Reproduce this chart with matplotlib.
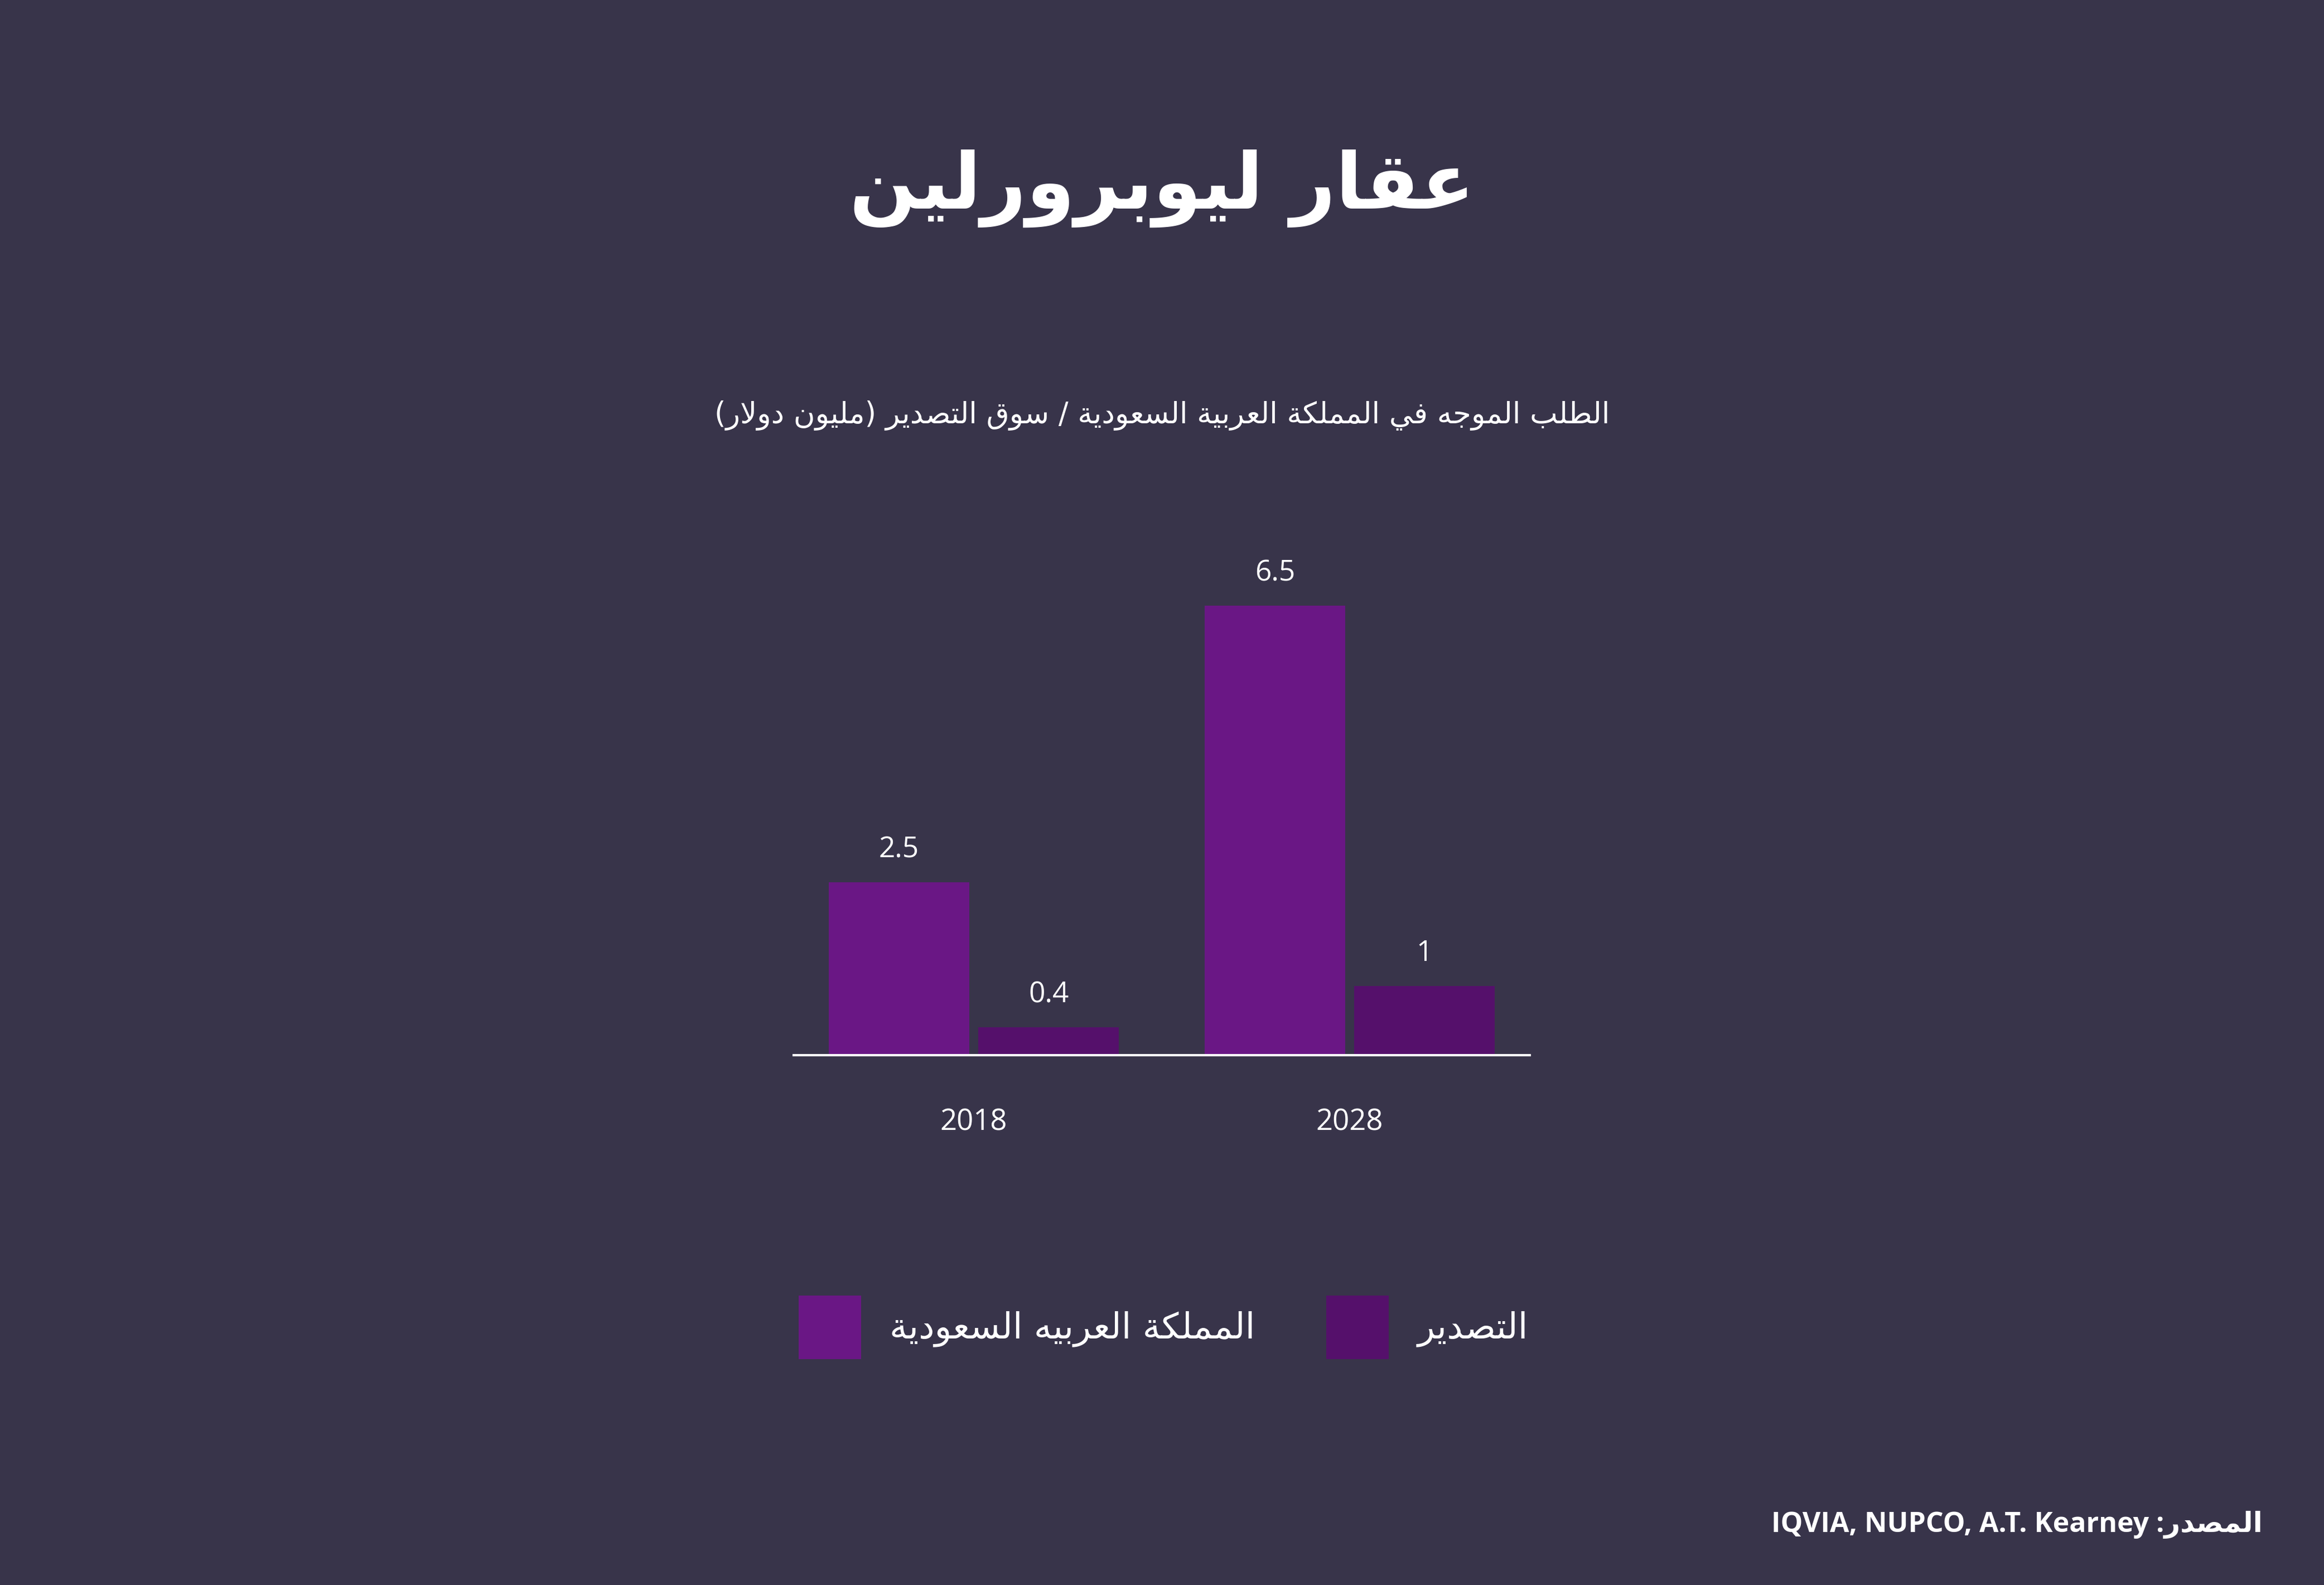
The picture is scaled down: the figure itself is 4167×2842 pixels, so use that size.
import matplotlib
matplotlib.use("Agg")
import matplotlib.pyplot as plt
import numpy as np

# ---- data ----
years = ["2018", "2028"]
saudi = [2.5, 6.5]
export = [0.4, 1.0]
value_labels_saudi = ["2.5", "6.5"]
value_labels_export = ["0.4", "1"]

title_txt = "عقار ليوبرورلين"
subtitle_txt = "الطلب الموجه في المملكة العربية السعودية / سوق التصدير (مليون دولار)"
legend_saudi = "المملكة العربيه السعودية"
legend_export = "التصدير"
source_label = "المصدر"
source_names = "IQVIA, NUPCO, A.T. Kearney"

BG = "#38344a"
C_SAUDI = "#6a1785"
C_EXPORT = "#55106b"

# ---- minimal arabic shaping (matplotlib has no shaper) ----
# base presentation-form code point, number of forms (2 = right-joining only)
FORMS = {
    "ا": (0xFE8D, 2), "ب": (0xFE8F, 4), "ة": (0xFE93, 2), "ت": (0xFE95, 4),
    "ج": (0xFE9D, 4), "د": (0xFEA9, 2), "ر": (0xFEAD, 2), "س": (0xFEB1, 4),
    "ص": (0xFEB9, 4), "ط": (0xFEC1, 4), "ع": (0xFEC9, 4), "ف": (0xFED1, 4),
    "ق": (0xFED5, 4), "ك": (0xFED9, 4), "ل": (0xFEDD, 4), "م": (0xFEE1, 4),
    "ن": (0xFEE5, 4), "ه": (0xFEE9, 4), "و": (0xFEED, 2), "ي": (0xFEF1, 4),
    "LA": (0xFEFB, 2),
}
MIRROR = {"(": ")", ")": "("}


def ar(s):
    letters = []
    i = 0
    while i < len(s):
        if s[i] == "ل" and i + 1 < len(s) and s[i + 1] == "ا":
            letters.append("LA"); i += 2
        else:
            letters.append(s[i]); i += 1
    out = []
    for j, c in enumerate(letters):
        if c not in FORMS:
            out.append(MIRROR.get(c, c))
            continue
        prev = letters[j - 1] if j > 0 else None
        nxt = letters[j + 1] if j + 1 < len(letters) else None
        jp = prev in FORMS and FORMS[prev][1] == 4
        jn = FORMS[c][1] == 4 and nxt in FORMS
        idx = 3 if (jp and jn) else 1 if jp else 2 if jn else 0
        out.append(chr(FORMS[c][0] + idx))
    return "".join(reversed(out))


AR_FONT = ["DejaVu Sans"]
LAT_FONT = ["Open Sans", "DejaVu Sans"]

W, H = 4167, 2842
fig = plt.figure(figsize=(W / 100, H / 100), dpi=100, facecolor=BG)

# axes placed in pixel terms of the reference
ax = fig.add_axes([1423 / W, (H - 1892) / H, (2743 - 1423) / W, 868 / H])
ax.set_facecolor(BG)

x = np.arange(len(years))
w = 0.374
off = 0.199
b1 = ax.bar(x - off, saudi, w, color=C_SAUDI, label=ar(legend_saudi))
b2 = ax.bar(x + off, export, w, color=C_EXPORT, label=ar(legend_export))

for bars, labs in ((b1, value_labels_saudi), (b2, value_labels_export)):
    for b, t in zip(bars, labs):
        ax.annotate(t, (b.get_x() + b.get_width() / 2, b.get_height()),
                    xytext=(0, 42), textcoords="offset points",
                    ha="center", va="center", color="white",
                    fontsize=37, family=LAT_FONT)

ax.set_xlim(-0.479, 1.479)
ax.set_ylim(0, 7)
ax.set_xticks(x)
ax.set_xticklabels(years, family=LAT_FONT, fontsize=38, color="white")
ax.tick_params(axis="x", length=0, pad=68)
ax.set_yticks([])
for s in ("top", "left", "right"):
    ax.spines[s].set_visible(False)
ax.spines["bottom"].set_color("white")
ax.spines["bottom"].set_linewidth(3)

fig.text(0.5, (H - 374) / H, ar(title_txt), ha="center", va="baseline",
         color="white", fontsize=101, fontweight="bold", family=AR_FONT)
fig.text(0.5, (H - 759) / H, ar(subtitle_txt), ha="center", va="baseline",
         color="white", fontsize=38, family=AR_FONT)
fig.text(4057 / W, (H - 2747) / H, source_names + " :" + ar(source_label),
         ha="right", va="baseline", color="white", fontsize=36,
         fontweight="bold", family=LAT_FONT)

leg = fig.legend(handles=[b1, b2], loc="center", bbox_to_anchor=(2086 / W, (H - 2380) / H),
                 ncol=2, frameon=False, handlelength=1.75,
                 handleheight=2.35, handletextpad=0.8, columnspacing=2.0,
                 prop={"family": AR_FONT, "size": 46})
for t in leg.get_texts():
    t.set_color("white")

fig.savefig("out.png", dpi=100, facecolor=BG)
